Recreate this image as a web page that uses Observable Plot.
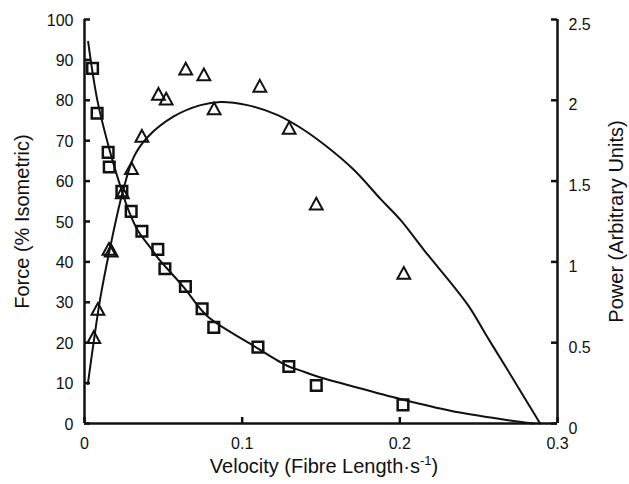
<!DOCTYPE html>
<html>
<head>
<meta charset="utf-8">
<script src="https://cdn.jsdelivr.net/npm/d3@7"></script>
<script src="https://cdn.jsdelivr.net/npm/@observablehq/plot@0.6"></script>
<style>
  body { margin: 0; background: #fff; }
  svg { display: block; }
</style>
</head>
<body>
<div id="chart"></div>
<script>
// Measured force (% isometric) at each shortening velocity (fibre lengths per second)
const forceVelocity = [0.0051, 0.0080, 0.0150, 0.0157, 0.0237, 0.0296, 0.0364, 0.0465, 0.0510, 0.0640, 0.0746, 0.0820, 0.1100, 0.1296, 0.1470, 0.2020];
const forceValues   = [87.9, 76.8, 67.1, 63.5, 57.5, 52.5, 47.6, 43.1, 38.3, 33.9, 28.4, 23.8, 18.9, 14.1, 9.4, 4.6];

// Measured power (arbitrary units)
const powerVelocity = [0.0059, 0.0085, 0.0155, 0.0170, 0.0240, 0.0298, 0.0364, 0.0469, 0.0518, 0.0642, 0.0757, 0.0822, 0.1112, 0.1298, 0.1470, 0.2025];
const powerValues   = [0.535, 0.709, 1.08, 1.07, 1.43, 1.58, 1.78, 2.04, 2.01, 2.196, 2.16, 1.95, 2.09, 1.83, 1.36, 0.932];

// Fitted force-velocity curve
const forceFitVelocity = [0.0023, 0.0081, 0.0159, 0.0222, 0.0275, 0.0338, 0.0423, 0.0461, 0.0630, 0.0778, 0.1053, 0.1285, 0.1370, 0.1497, 0.1687, 0.2004, 0.2321, 0.2638, 0.2850];
const forceFitValues   = [94.5, 80.1, 67.7, 59.4, 53.2, 47.8, 43.3, 41.2, 33.7, 26.6, 19.7, 14.3, 13.1, 11.4, 9.35, 6.05, 3.15, 1.09, 0];

// Fitted power-velocity curve
const powerFitVelocity = [0.0021, 0.0059, 0.0101, 0.0165, 0.0239, 0.0313, 0.0398, 0.0566, 0.0736, 0.0862, 0.1032, 0.1222, 0.1370, 0.1528, 0.1708, 0.1877, 0.2004, 0.2152, 0.2427, 0.2553, 0.2680, 0.2890];
const powerFitValues   = [0.244, 0.51, 0.78, 1.10, 1.42, 1.65, 1.77, 1.90, 1.97, 1.99, 1.97, 1.91, 1.83, 1.72, 1.57, 1.39, 1.26, 1.075, 0.74, 0.538, 0.337, 0];

// Axis ticks
const xTicks = [0, 0.1, 0.2, 0.3];
const xTickLabels = ["0", "0.1", "0.2", "0.3"];
const forceTicks = [0, 10, 20, 30, 40, 50, 60, 70, 80, 90, 100];
const powerTicks = [0, 0.5, 1, 1.5, 2, 2.5];
const powerTickLabels = ["0", "0.5", "1", "1.5", "2", "2.5"];

const xTitle = "Velocity (Fibre Length·s-1)";
const yTitle = "Force (% Isometric)";
const y2Title = "Power (Arbitrary Units)";

// 2.5 power units share the height of 100 % force
const POWER_SCALE = 40;
const X_MAX = 0.3;

const forcePoints = forceVelocity.map((v, i) => ({v, f: forceValues[i]}));
const powerPoints = powerVelocity.map((v, i) => ({v, p: powerValues[i]}));
const forceFit = forceFitVelocity.map((v, i) => ({v, f: forceFitValues[i]}));
const powerFit = powerFitVelocity.map((v, i) => ({v, p: powerFitValues[i]}));

// Open upward triangle, slightly taller than equilateral
const triangle = {
  draw(context, size) {
    const r = Math.sqrt(size / Math.PI);
    context.moveTo(0, -0.92 * r);
    context.lineTo(r, 0.92 * r);
    context.lineTo(-r, 0.92 * r);
    context.closePath();
  }
};

// Layout (pixels)
const W = 629, H = 484;
const M = {left: 84, right: 72, top: 19, bottom: 61};
const frameW = W - M.left - M.right;
const frameH = H - M.top - M.bottom;
const TICK = 6;

const font = "'Liberation Sans', Arial, Helvetica, sans-serif";
const ink = "#111";

const chart = Plot.plot({
  width: W,
  height: H,
  marginLeft: M.left,
  marginRight: M.right,
  marginTop: M.top,
  marginBottom: M.bottom,
  style: {fontFamily: font, fontSize: "16px", background: "#fff", color: ink},
  x: {domain: [0, X_MAX]},
  y: {domain: [0, 100]},
  marks: [
    // tick labels
    Plot.axisX(xTicks, {tickSize: 0, tickPadding: 14, label: null,
      tickFormat: d => xTickLabels[xTicks.indexOf(d)]}),
    Plot.axisY(forceTicks, {anchor: "left", tickSize: 0, tickPadding: 11, dy: 1, label: null}),
    Plot.axisY(powerTicks.map(p => p * POWER_SCALE), {anchor: "right", tickSize: 0, tickPadding: 11, dy: 5, label: null,
      tickFormat: d => powerTickLabels[powerTicks.indexOf(d / POWER_SCALE)]}),
    // inward tick marks: full-frame ticks inset down to a short stub at the axis
    Plot.tickX(xTicks, {x: d => d, insetTop: frameH - TICK, stroke: ink, strokeWidth: 2.5}),
    Plot.tickY(forceTicks, {y: d => d, insetRight: frameW - TICK, stroke: ink, strokeWidth: 2.5}),
    Plot.tickY(powerTicks, {y: d => d * POWER_SCALE, insetLeft: frameW - TICK, stroke: ink, strokeWidth: 2.5}),
    // axis lines
    Plot.ruleX([0, X_MAX], {strokeWidth: 2.5, stroke: ink}),
    Plot.ruleY([0], {strokeWidth: 2.5, stroke: ink}),
    // fitted curves
    Plot.line(forceFit, {x: "v", y: "f", curve: "catmull-rom", stroke: ink, strokeWidth: 2}),
    Plot.line(powerFit, {x: "v", y: d => d.p * POWER_SCALE, curve: "catmull-rom", stroke: ink, strokeWidth: 2}),
    // measurements
    Plot.dot(forcePoints, {x: "v", y: "f", symbol: "square", r: 6, fill: "none", stroke: ink, strokeWidth: 2.5}),
    Plot.dot(powerPoints, {x: "v", y: d => d.p * POWER_SCALE, symbol: triangle, r: 6.4, fill: "none", stroke: ink, strokeWidth: 2}),
    // axis titles
    Plot.text([yTitle], {text: d => d, frameAnchor: "left", dx: -62, rotate: -90, textAnchor: "middle", lineAnchor: "middle", fontSize: 20, fill: ink}),
    Plot.text([y2Title], {text: d => d, frameAnchor: "right", dx: 59, rotate: -90, textAnchor: "middle", lineAnchor: "middle", fontSize: 20, fill: ink}),
    Plot.text([xTitle], {text: d => d, frameAnchor: "bottom", dx: 3, dy: 43, textAnchor: "middle", lineAnchor: "middle", fontSize: 20, fill: ink})
  ]
});

// Raise the "-1" exponent in the velocity unit
d3.select(chart).selectAll("text").each(function () {
  if (this.textContent === xTitle) {
    const t = d3.select(this).text(null);
    t.append("tspan").text("Velocity (Fibre Length·s");
    t.append("tspan").attr("dy", -8).attr("font-size", 13).text("-1");
    t.append("tspan").attr("dy", 8).text(")");
  }
});

document.getElementById("chart").append(chart);
</script>
</body>
</html>
